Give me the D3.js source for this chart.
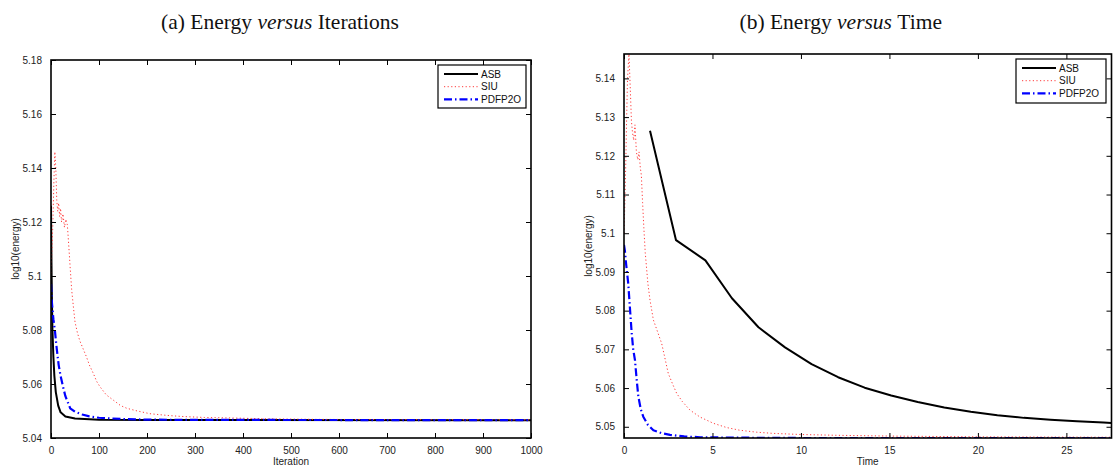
<!DOCTYPE html>
<html>
<head>
<meta charset="utf-8">
<script src="https://cdn.jsdelivr.net/npm/d3@7"></script>
<style>
  body { margin: 0; background: #fff; }
  svg { display: block; }
  .tick text { font-family: "Liberation Sans", Arial, sans-serif; font-size: 10px; fill: #222; }
</style>
</head>
<body>
<svg id="chart" width="1115" height="471"></svg>
<script>
// ---- data ----
const seriesNames = ["ASB", "SIU", "PDFP2O"];

// Panel (a): energy per iteration
const asbIter = [[0,5.126],[1,5.105],[2,5.09],[3,5.08],[5,5.07],[7,5.063],[10,5.057],[15,5.052],[20,5.0495],[30,5.048],[50,5.0472],[100,5.0468],[200,5.0467],[1000,5.0466]];
const siuIter = [[0,5.101],[2,5.11],[4,5.12],[6,5.135],[8,5.146],[10,5.14],[12,5.128],[14,5.124],[16,5.127],[18,5.122],[20,5.125],[22,5.12],[25,5.123],[28,5.118],[31,5.121],[34,5.119],[36,5.114],[40,5.103],[43,5.095],[47,5.088],[50,5.083],[55,5.079],[60,5.076],[67,5.073],[74,5.070],[80,5.067],[88,5.064],[95,5.061],[102,5.059],[115,5.056],[130,5.054],[145,5.052],[158,5.051],[180,5.050],[206,5.049],[240,5.0484],[270,5.048],[320,5.0476],[380,5.0474],[450,5.0471],[550,5.0469],[700,5.0468],[1000,5.0467]];
const pdfpIter = [[0,5.097],[2,5.09],[5,5.084],[8,5.08],[12,5.073],[16,5.067],[20,5.063],[25,5.059],[30,5.0555],[40,5.051],[50,5.0497],[65,5.0487],[80,5.048],[100,5.0475],[150,5.047],[200,5.0468],[300,5.0467],[1000,5.0466]];

// Panel (b): energy against CPU time
const asbTime = [[1.47,5.1265],[2.94,5.0982],[4.6,5.093],[6.1,5.0832],[7.6,5.0757],[9.1,5.0705],[10.6,5.0662],[12.1,5.0628],[13.6,5.0601],[15.1,5.0581],[16.6,5.0564],[18.1,5.0550],[19.6,5.0539],[21.1,5.0530],[22.6,5.0523],[24.1,5.0518],[25.6,5.0514],[27.1,5.0511],[27.55,5.0510]];
const siuTime = [[0,5.100],[0.05,5.108],[0.1,5.118],[0.15,5.13],[0.2,5.14],[0.28,5.1463],[0.35,5.138],[0.42,5.129],[0.48,5.126],[0.55,5.124],[0.62,5.128],[0.7,5.121],[0.78,5.119],[0.85,5.121],[0.92,5.117],[0.98,5.115],[1.05,5.108],[1.12,5.1015],[1.2,5.095],[1.35,5.087],[1.47,5.0827],[1.66,5.0776],[1.9,5.0745],[2.13,5.0715],[2.3,5.068],[2.5,5.0638],[2.75,5.061],[2.98,5.0586],[3.3,5.0565],[3.73,5.0543],[4.3,5.0525],[5.05,5.0509],[5.8,5.0498],[6.55,5.0491],[7.5,5.0486],[8.4,5.0483],[10,5.0480],[12,5.0478],[15,5.0476],[20,5.0474],[27.55,5.0473]];
const pdfpTime = [[0,5.097],[0.05,5.0955],[0.12,5.092],[0.24,5.087],[0.33,5.081],[0.43,5.0745],[0.52,5.070],[0.62,5.0672],[0.72,5.062],[0.81,5.0578],[0.95,5.0545],[1.09,5.0526],[1.35,5.0505],[1.66,5.0491],[2.1,5.0484],[2.6,5.0479],[3.4,5.0475],[4.3,5.0473],[6,5.0472],[10,5.0471],[27.55,5.0471]];

const itersTicks = [0,100,200,300,400,500,600,700,800,900,1000];
const itersYTicks = [5.04,5.06,5.08,5.10,5.12,5.14,5.16,5.18];
const timeTicks = [0,5,10,15,20,25];
const timeYTicks = [5.05,5.06,5.07,5.08,5.09,5.10,5.11,5.12,5.13,5.14];

// ---- styles per series ----
const styles = {
  ASB:    { color: "#000000", width: 2,   dash: null },
  SIU:    { color: "#ff3b3b", width: 1,   dash: "1.2,2.4" },
  PDFP2O: { color: "#0000ff", width: 2.2, dash: "8,3,1.5,3" }
};

// MATLAB-style tick labels: drop trailing zeros
const fmtTick = v => String(+v.toFixed(4));

const svg = d3.select("#chart");

function panel(cfg) {
  const { left, right, top, bottom } = cfg.box;
  const x = d3.scaleLinear().domain(cfg.xDomain).range([left, right]);
  const y = d3.scaleLinear().domain(cfg.yDomain).range([bottom, top]);
  const g = svg.append("g");

  // title
  const t = g.append("text")
    .attr("x", (left + right) / 2 + cfg.titleShift).attr("y", 29)
    .attr("text-anchor", "middle")
    .style("font-family", "'Liberation Serif', 'DejaVu Serif', serif")
    .style("font-size", "21.5px").style("fill", "#111");
  t.append("tspan").text(cfg.title[0]);
  t.append("tspan").style("font-style", "italic").text(" versus ");
  t.append("tspan").text(cfg.title[1]);

  // clip for the data lines
  const clipId = "clip-" + cfg.id;
  svg.append("clipPath").attr("id", clipId)
    .append("rect").attr("x", left).attr("y", top)
    .attr("width", right - left).attr("height", bottom - top);

  const line = d3.line().x(d => x(d[0])).y(d => y(d[1]));
  const lines = g.append("g").attr("clip-path", `url(#${clipId})`);
  cfg.series.forEach((s, i) => {
    const st = styles[seriesNames[i]];
    lines.append("path").datum(s)
      .attr("fill", "none")
      .attr("stroke", st.color)
      .attr("stroke-width", st.width)
      .attr("stroke-dasharray", st.dash)
      .attr("stroke-linejoin", "round")
      .attr("d", line);
  });

  // axes with inward ticks (bottom/left labelled, top/right mirrored)
  const tl = 5;
  const axB = d3.axisBottom(x).tickValues(cfg.xTicks).tickSizeInner(-tl).tickSizeOuter(0).tickPadding(9).tickFormat(fmtTick);
  const axT = d3.axisTop(x).tickValues(cfg.xTicks).tickSizeInner(-tl).tickSizeOuter(0).tickFormat("");
  const axL = d3.axisLeft(y).tickValues(cfg.yTicks).tickSizeInner(-tl).tickSizeOuter(0).tickPadding(9).tickFormat(fmtTick);
  const axR = d3.axisRight(y).tickValues(cfg.yTicks).tickSizeInner(-tl).tickSizeOuter(0).tickFormat("");
  [[axB, `translate(0,${bottom})`], [axT, `translate(0,${top})`],
   [axL, `translate(${left},0)`], [axR, `translate(${right},0)`]].forEach(([ax, tr]) => {
    const a = g.append("g").attr("transform", tr).call(ax);
    a.select(".domain").remove();
    a.selectAll(".tick line").attr("stroke", "#000").attr("stroke-width", 1);
  });
  g.append("rect").attr("x", left).attr("y", top)
    .attr("width", right - left).attr("height", bottom - top)
    .attr("fill", "none").attr("stroke", "#000").attr("stroke-width", 1.6);

  // axis titles
  g.append("text").attr("x", (left + right) / 2).attr("y", cfg.xLabelY)
    .attr("text-anchor", "middle")
    .style("font-family", "'Liberation Sans', Arial, sans-serif").style("font-size", "10px").style("fill", "#222")
    .text(cfg.xLabel);
  g.append("text")
    .attr("transform", `translate(${cfg.yLabelX},${(top + bottom) / 2}) rotate(-90)`)
    .attr("text-anchor", "middle")
    .style("font-family", "'Liberation Sans', Arial, sans-serif").style("font-size", "10px").style("fill", "#222")
    .text("log10(energy)");

  // legend
  const L = cfg.legend;
  const lg = g.append("g");
  lg.append("rect").attr("x", L.x).attr("y", L.y).attr("width", L.w).attr("height", L.h)
    .attr("fill", "#fff").attr("stroke", "#000").attr("stroke-width", 1.2);
  seriesNames.forEach((name, i) => {
    const st = styles[name];
    const yy = L.y + 9 + i * 12.7;
    lg.append("line").attr("x1", L.x + 6).attr("x2", L.x + 40).attr("y1", yy).attr("y2", yy)
      .attr("stroke", st.color).attr("stroke-width", st.width).attr("stroke-dasharray", st.dash);
    lg.append("text").attr("x", L.x + 43).attr("y", yy + 3.6)
      .style("font-family", "'Liberation Sans', Arial, sans-serif").style("font-size", "10px").style("fill", "#111")
      .text(name);
  });
}

panel({
  id: "a",
  box: { left: 51, right: 531, top: 60, bottom: 438 },
  xDomain: [0, 1000], yDomain: [5.04, 5.18],
  xTicks: itersTicks, yTicks: itersYTicks,
  series: [asbIter, siuIter, pdfpIter],
  title: ["(a) Energy", "Iterations"], titleShift: -11,
  xLabel: "Iteration", xLabelY: 465, yLabelX: 19,
  legend: { x: 438, y: 65, w: 88, h: 43 }
});

panel({
  id: "b",
  box: { left: 624, right: 1111.5, top: 54, bottom: 438 },
  xDomain: [0, 27.55], yDomain: [5.0471, 5.1463],
  xTicks: timeTicks, yTicks: timeYTicks,
  series: [asbTime, siuTime, pdfpTime],
  title: ["(b) Energy", "Time"], titleShift: -27,
  xLabel: "Time", xLabelY: 465, yLabelX: 592,
  legend: { x: 1016, y: 59, w: 90, h: 44 }
});
</script>
</body>
</html>
